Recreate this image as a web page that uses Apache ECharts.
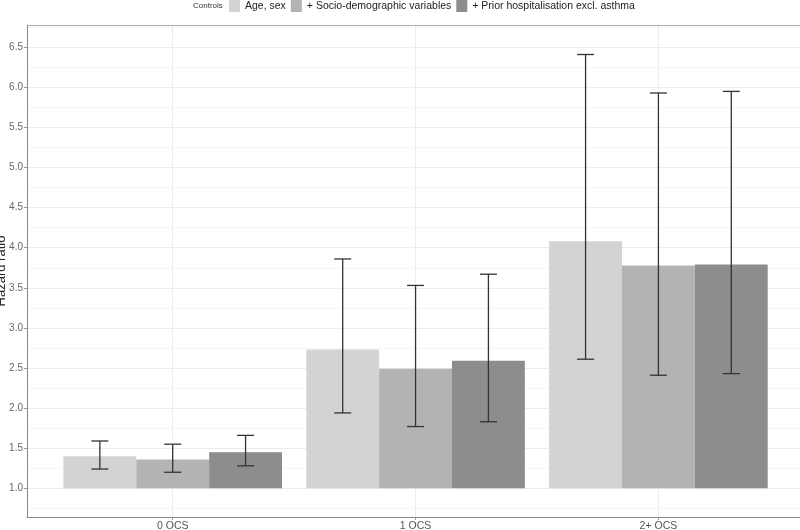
<!DOCTYPE html>
<html>
<head>
<meta charset="utf-8">
<script src="https://cdn.jsdelivr.net/npm/echarts@6/dist/echarts.min.js"></script>
<style>html,body{margin:0;padding:0;background:#fff}#c{width:800px;height:530px}</style>
</head>
<body>
<div id="c"></div>
<script>
const categories = ['0 OCS', '1 OCS', '2+ OCS'];
const seriesNames = ['Age, sex', '+ Socio-demographic variables', '+ Prior hospitalisation excl. asthma'];
const baseline = 1;
const ageSex = [1.40, 2.73, 4.08];
const ageSexLo = [1.24, 1.94, 2.61];
const ageSexHi = [1.59, 3.86, 6.41];
const socio = [1.36, 2.49, 3.78];
const socioLo = [1.20, 1.77, 2.41];
const socioHi = [1.55, 3.53, 5.93];
const prior = [1.45, 2.59, 3.79];
const priorLo = [1.28, 1.83, 2.43];
const priorHi = [1.66, 3.67, 5.95];
const yTicks = [1.0, 1.5, 2.0, 2.5, 3.0, 3.5, 4.0, 4.5, 5.0, 5.5, 6.0, 6.5];

const colors = ['#d3d3d3', '#b3b3b3', '#8d8d8d'];
const FONT = '"Liberation Sans", Arial, sans-serif';
const barW = 0.3, capHalf = 0.035;
const offsets = [-0.3, 0, 0.3];
const values = [ageSex, socio, prior];
const los = [ageSexLo, socioLo, priorLo];
const his = [ageSexHi, socioHi, priorHi];

function makeRender(off, color) {
  return function (params, api) {
    const x = api.value(0) + off;
    const v = api.value(1), lo = api.value(2), hi = api.value(3);
    const tl = api.coord([x - barW / 2, v]);
    const br = api.coord([x + barW / 2, baseline]);
    const eTop = api.coord([x, hi]);
    const eBot = api.coord([x, lo]);
    const cL = api.coord([x - capHalf, hi]);
    const cR = api.coord([x + capHalf, hi]);
    const es = { stroke: '#333', lineWidth: 1.3 };
    return {
      type: 'group',
      children: [
        { type: 'rect', shape: { x: tl[0], y: tl[1], width: br[0] - tl[0], height: br[1] - tl[1] }, style: { fill: color } },
        { type: 'line', shape: { x1: eTop[0], y1: eTop[1], x2: eBot[0], y2: eBot[1] }, style: es },
        { type: 'line', shape: { x1: cL[0], y1: eTop[1], x2: cR[0], y2: eTop[1] }, style: es },
        { type: 'line', shape: { x1: cL[0], y1: eBot[1], x2: cR[0], y2: eBot[1] }, style: es }
      ]
    };
  };
}

const series = seriesNames.map((name, s) => ({
  type: 'custom',
  name: name,
  itemStyle: { color: colors[s] },
  renderItem: makeRender(offsets[s], colors[s]),
  encode: { x: 0, y: [1, 2, 3] },
  data: categories.map((c, i) => [i + 1, values[s][i], los[s][i], his[s][i]])
}));

const chart = echarts.init(document.getElementById('c'), null, { renderer: 'canvas' });
chart.setOption({
  animation: false,
  textStyle: { fontFamily: FONT },
  grid: { left: 27, right: 0, top: 25, bottom: 13, containLabel: false, outerBoundsMode: 'none' },
  legend: {
    data: seriesNames.map(n => ({ name: n, icon: 'rect' })),
    left: 229, top: 0, padding: 0,
    itemWidth: 11, itemHeight: 12, itemGap: 5,
    textStyle: { fontSize: 10.5, color: '#222', fontFamily: FONT }
  },
  graphic: [{
    type: 'text', left: 193, top: 2,
    style: { text: 'Controls', fontSize: 8, fill: '#333', fontFamily: FONT }
  }],
  xAxis: [{
    type: 'value', min: 0.4, max: 3.583, splitNumber: 3,
    axisLine: { show: true, onZero: false, lineStyle: { color: '#888', width: 1 } },
    axisTick: { show: true, customValues: [1, 2, 3], length: 3, lineStyle: { color: '#999' } },
    axisLabel: { customValues: [1, 2, 3], formatter: v => categories[Math.round(v) - 1], fontSize: 10.5, color: '#555', margin: 4 },
    splitLine: { show: true, lineStyle: { color: '#ececec', width: 1 } }
  }, {
    type: 'value', position: 'top', min: 0.4, max: 3.583,
    axisLine: { show: true, onZero: false, lineStyle: { color: '#aaa', width: 1 } },
    axisTick: { show: false }, axisLabel: { show: false }, splitLine: { show: false }
  }],
  yAxis: {
    type: 'value', min: 0.642, max: 6.778, splitNumber: 12,
    name: 'Hazard ratio', nameLocation: 'middle', nameGap: 19, nameMoveOverlap: false,
    nameTextStyle: { fontSize: 13, color: '#222', fontFamily: FONT },
    axisLine: { show: true, onZero: false, lineStyle: { color: '#888', width: 1 } },
    axisTick: { show: true, customValues: yTicks, length: 3, lineStyle: { color: '#999' } },
    axisLabel: { customValues: yTicks, formatter: v => v.toFixed(1), fontSize: 10, color: '#666', margin: 4 },
    splitLine: { show: true, lineStyle: { color: '#ececec', width: 1 } },
    minorTick: { show: false, splitNumber: 2 },
    minorSplitLine: { show: true, lineStyle: { color: '#f5f5f5', width: 1 } }
  },
  series: series
});
</script>
</body>
</html>
